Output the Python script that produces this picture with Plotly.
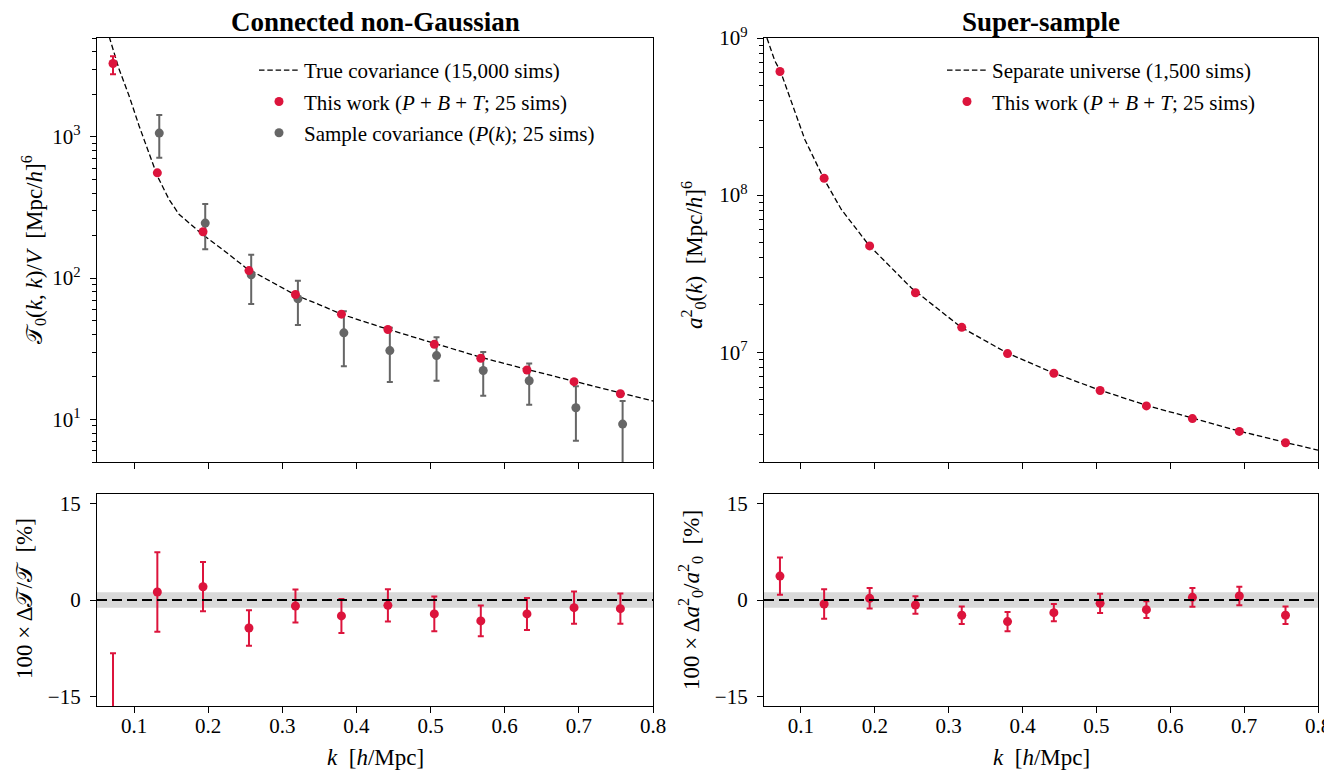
import plotly.graph_objects as go
from plotly.subplots import make_subplots

# k bins
k = [0.0716, 0.1314, 0.193, 0.255, 0.3177, 0.3797, 0.4424, 0.505, 0.5677, 0.630, 0.6935, 0.756]
k_sample = [0.134, 0.196, 0.258, 0.321, 0.383, 0.445, 0.508, 0.571, 0.633, 0.696, 0.759]

# connected non-Gaussian (top-left)
true_k = [0.0665, 0.0797, 0.0932, 0.1067, 0.1314, 0.1471, 0.1606, 0.1786, 0.1921, 0.219,
          0.2506, 0.2776, 0.3177, 0.3496, 0.38, 0.442, 0.505, 0.567, 0.63, 0.693, 0.756, 0.8]
true_cov = [5100, 3020, 1954, 1197, 528, 361, 283, 234, 204, 160,
            118.6, 99, 76, 65, 55.5, 43.5, 34.5, 27.6, 22.6, 18.6, 15.3, 13.5]
this_cng = [3300, 556, 213, 113, 76.6, 55.6, 43.3, 34.0, 27.1, 22.4, 18.5, 15.2]
this_cng_lo = [530, 0, 0, 0, 0, 0, 0, 0, 0, 0, 0, 0]
this_cng_hi = [420, 0, 0, 0, 0, 0, 0, 0, 0, 0, 0, 0]
sample_cng = [1062, 245, 105.7, 71.5, 41.0, 30.7, 28.3, 22.2, 18.8, 12.1, 9.27]
sample_cng_lo = [352, 85, 40.2, 25.0, 17.2, 12.3, 9.5, 7.5, 6.1, 5.04, 5.0]
sample_cng_hi = [364, 90, 40.8, 24.5, 17.3, 13.9, 9.9, 7.8, 6.1, 5.1, 4.23]

# super-sample (top-right)
su_k = [0.054, 0.0646, 0.0726, 0.0871, 0.1051, 0.131, 0.1547, 0.192, 0.2496, 0.317,
        0.379, 0.441, 0.504, 0.567, 0.629, 0.693, 0.755, 0.8]
su_cov = [1.0e9, 7.17e8, 6.1e8, 3.98e8, 2.27e8, 1.27e8, 8.1e7, 4.8e7, 2.56e7, 1.44e7,
          9.9e6, 7.4e6, 5.75e6, 4.6e6, 3.8e6, 3.15e6, 2.67e6, 2.38e6]
this_ssc = [6.12e8, 1.28e8, 4.75e7, 2.39e7, 1.44e7, 9.8e6, 7.35e6, 5.7e6, 4.55e6, 3.78e6, 3.13e6, 2.65e6]

# residuals [%]
res_cng = [-22.0, 1.24, 2.07, -4.35, -0.93, -2.48, -0.83, -2.17, -3.26, -2.17, -1.19, -1.35]
res_cng_err = [13.7, 6.2, 3.83, 2.77, 2.56, 2.65, 2.5, 2.7, 2.4, 2.5, 2.5, 2.35]
res_ssc = [3.72, -0.62, 0.26, -0.78, -2.38, -3.36, -1.97, -0.52, -1.5, 0.41, 0.62, -2.38]
res_ssc_err = [2.9, 2.3, 1.6, 1.35, 1.35, 1.5, 1.35, 1.5, 1.3, 1.45, 1.45, 1.35]
band = 1.2

RED = "#dc143c"
GRAY = "#666666"
FONT = "Liberation Serif"
# the page body has an 8px margin, so the figure sits at (8, 8) in the window
OFF = 8
W, H = 1332 - OFF, 774 - OFF

fig = make_subplots(rows=2, cols=2)


def fx(p):
    return (p - OFF) / W


def fy(p):
    return 1 - (p - OFF) / H


# top-left
fig.add_trace(go.Scatter(x=true_k, y=true_cov, mode="lines", name="True covariance (15,000 sims)",
                         line=dict(color="black", width=1.3, dash="5.5px,2.8px"),
                         legend="legend", legendrank=1, legendgroup="a"), row=1, col=1)
fig.add_trace(go.Scatter(x=k_sample, y=sample_cng, mode="markers",
                         name="Sample covariance (<i>P</i>(<i>k</i>); 25 sims)",
                         marker=dict(color=GRAY, size=9),
                         error_y=dict(type="data", symmetric=False, array=sample_cng_hi,
                                      arrayminus=sample_cng_lo, color=GRAY, thickness=2, width=3),
                         legend="legend", legendrank=3, legendgroup="c"), row=1, col=1)
fig.add_trace(go.Scatter(x=k, y=this_cng, mode="markers",
                         name="This work (<i>P</i> + <i>B</i> + <i>T</i>; 25 sims)",
                         marker=dict(color=RED, size=9),
                         error_y=dict(type="data", symmetric=False, array=this_cng_hi,
                                      arrayminus=this_cng_lo, color=RED, thickness=2, width=3),
                         legend="legend", legendrank=2, legendgroup="b"), row=1, col=1)

# top-right
fig.add_trace(go.Scatter(x=su_k, y=su_cov, mode="lines", name="Separate universe (1,500 sims)",
                         line=dict(color="black", width=1.3, dash="5.5px,2.8px"),
                         legend="legend2", legendgroup="d"), row=1, col=2)
fig.add_trace(go.Scatter(x=k, y=this_ssc, mode="markers",
                         name="This work (<i>P</i> + <i>B</i> + <i>T</i>; 25 sims)",
                         marker=dict(color=RED, size=9),
                         legend="legend2", legendgroup="e"), row=1, col=2)

# bottom residuals
for col, res, err in [(1, res_cng, res_cng_err), (2, res_ssc, res_ssc_err)]:
    ax = "x3" if col == 1 else "x4"
    ay = "y3" if col == 1 else "y4"
    fig.add_shape(type="rect", xref=f"{ax} domain", yref=ay, x0=0, x1=1, y0=-band, y1=band,
                  fillcolor="#d9d9d9", line_width=0, layer="below")
    fig.add_shape(type="line", xref=f"{ax} domain", yref=ay, x0=0, x1=1, y0=0, y1=0,
                  line=dict(color="black", width=2.2, dash="10px,5px"))
    fig.add_trace(go.Scatter(x=k, y=res, mode="markers", showlegend=False,
                             marker=dict(color=RED, size=9),
                             error_y=dict(type="data", array=err, color=RED, thickness=2, width=3)),
                  row=2, col=col)

axis_common = dict(showline=True, linecolor="black", linewidth=1.3, mirror=True,
                   ticks="outside", ticklen=6, tickwidth=1.3, tickcolor="black",
                   showgrid=False, zeroline=False, automargin=False,
                   tickfont=dict(family=FONT, size=21, color="black"))

xticks = [0.1, 0.2, 0.3, 0.4, 0.5, 0.6, 0.7, 0.8]
left_dom, right_dom = [fx(97), fx(653)], [fx(764), fx(1318)]
for i, dom in [(1, left_dom), (2, right_dom), (3, left_dom), (4, right_dom)]:
    name = "xaxis" if i == 1 else f"xaxis{i}"
    fig.layout[name].update(axis_common, domain=dom, range=[0.05, 0.8], tickvals=xticks,
                            ticktext=[f"{v:.1f}" for v in xticks], showticklabels=i > 2,
                            ticklabelstandoff=-5)

top_dom, bot_dom = [fy(462), fy(38)], [fy(706), fy(494)]
minor_cng = [v * m for m in [1, 10, 100, 1000] for v in range(2, 10) if 5 <= v * m <= 5000]
minor_ssc = [v * m for m in [1e6, 1e7, 1e8] for v in range(2, 10)]
minor_style = dict(tickmode="array", ticks="outside", ticklen=3.5, tickwidth=1, tickcolor="black")
fig.layout.yaxis.update(axis_common, domain=top_dom, type="log",
                        range=[0.69897, 3.69897], tickvals=[10, 100, 1000],
                        ticktext=["10<sup>1</sup>", "10<sup>2</sup>", "10<sup>3</sup>"],
                        ticklabelstandoff=5, minor=dict(minor_style, tickvals=minor_cng))
fig.layout.yaxis2.update(axis_common, domain=top_dom, type="log",
                         range=[6.30103, 9], tickvals=[1e7, 1e8, 1e9],
                         ticktext=["10<sup>7</sup>", "10<sup>8</sup>", "10<sup>9</sup>"],
                         ticklabelstandoff=5, minor=dict(minor_style, tickvals=minor_ssc))
for name in ["yaxis3", "yaxis4"]:
    fig.layout[name].update(axis_common, domain=bot_dom, range=[-16.5, 16.5],
                            tickvals=[-15, 0, 15], ticktext=["\u221215", "0", "15"],
                            ticklabelstandoff=5)

title_font = dict(family=FONT, size=27, color="black")
label_font = dict(family=FONT, size=23, color="black")
annotations = [
    dict(text="<b>Connected non-Gaussian</b>", x=fx(375), y=fy(22), font=title_font),
    dict(text="<b>Super-sample</b>", x=fx(1041), y=fy(22), font=title_font),
    dict(text="<i>k</i>  [<i>h</i>/Mpc]", x=fx(375), y=fy(757), font=label_font),
    dict(text="<i>k</i>  [<i>h</i>/Mpc]", x=fx(1041), y=fy(757), font=label_font),
    dict(text="\U0001D4AF<sub>0</sub>(<i>k</i>, <i>k</i>)/<i>V</i>  [Mpc/<i>h</i>]<sup>6</sup>",
         x=fx(33), y=fy(250), textangle=-90, font=label_font),
    dict(text="<i>a</i><sup>2</sup><sub>0</sub>(<i>k</i>)  [Mpc/<i>h</i>]<sup>6</sup>",
         x=fx(693), y=fy(255), textangle=-90, font=label_font),
    dict(text="100 \u00d7 \u0394\U0001D4AF/\U0001D4AF  [%]",
         x=fx(24), y=fy(599), textangle=-90, font=label_font),
    dict(text="100 \u00d7 \u0394<i>a</i><sup>2</sup><sub>0</sub>/<i>a</i><sup>2</sup><sub>0</sub>  [%]",
         x=fx(690), y=fy(600), textangle=-90, font=label_font),
]
for a in annotations:
    fig.add_annotation(a, xref="paper", yref="paper", showarrow=False,
                       xanchor="center", yanchor="middle")

legend_style = dict(bgcolor="rgba(0,0,0,0)", borderwidth=0, xanchor="left", yanchor="top",
                    font=dict(family=FONT, size=21, color="black"), tracegroupgap=1,
                    itemwidth=40)
fig.update_layout(
    width=W, height=H,
    margin=dict(l=0, r=0, t=0, b=0),
    paper_bgcolor="white", plot_bgcolor="white",
    font=dict(family=FONT, size=21, color="black"),
    legend=dict(legend_style, x=fx(254), y=fy(50)),
    legend2=dict(legend_style, x=fx(942), y=fy(50)),
)

fig.write_html("out.html")
